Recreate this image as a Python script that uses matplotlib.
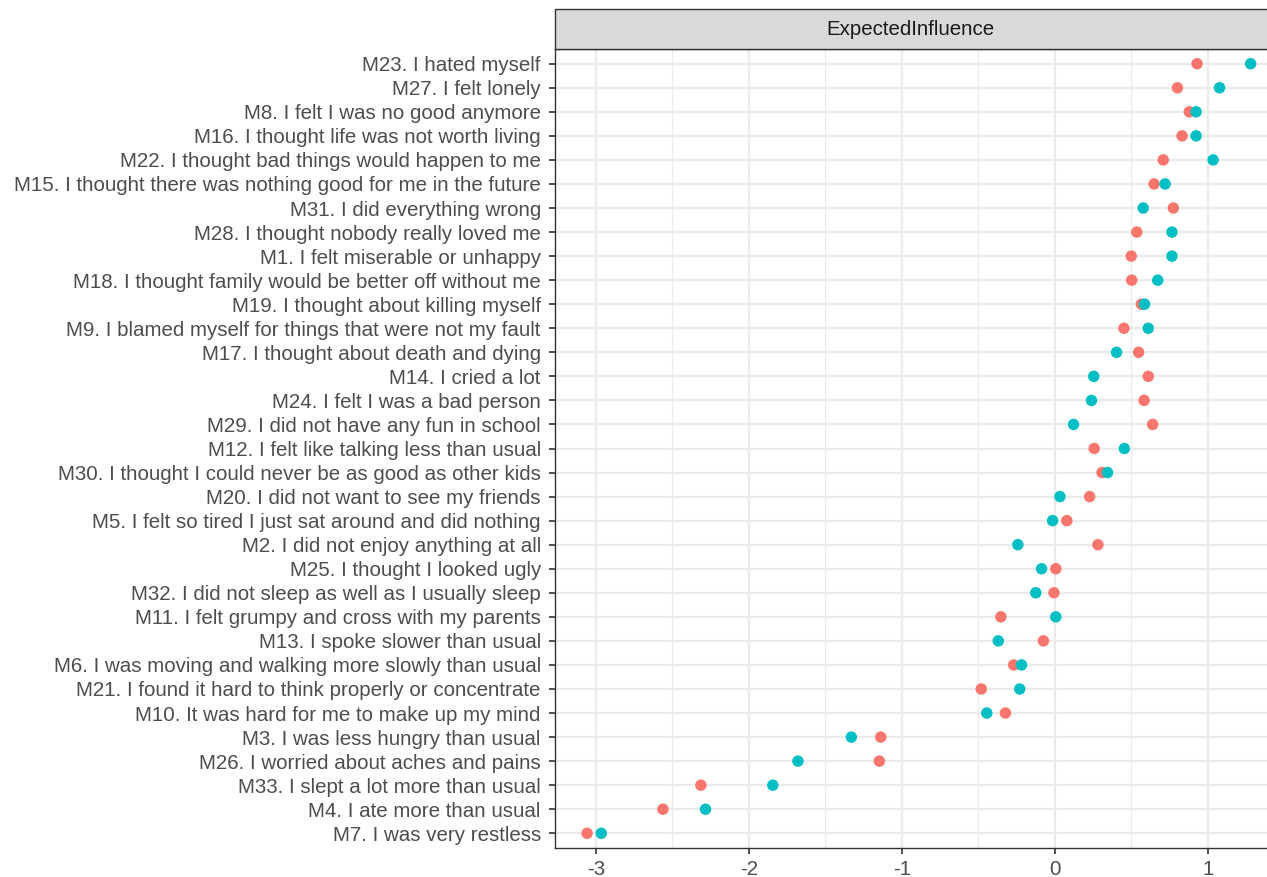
import matplotlib
matplotlib.use("Agg")
import matplotlib.pyplot as plt
from matplotlib.patches import Rectangle
from matplotlib.ticker import MultipleLocator

items = [
    "M23. I hated myself",
    "M27. I felt lonely",
    "M8. I felt I was no good anymore",
    "M16. I thought life was not worth living",
    "M22. I thought bad things would happen to me",
    "M15. I thought there was nothing good for me in the future",
    "M31. I did everything wrong",
    "M28. I thought nobody really loved me",
    "M1. I felt miserable or unhappy",
    "M18. I thought family would be better off without me",
    "M19. I thought about killing myself",
    "M9. I blamed myself for things that were not my fault",
    "M17. I thought about death and dying",
    "M14. I cried a lot",
    "M24. I felt I was a bad person",
    "M29. I did not have any fun in school",
    "M12. I felt like talking less than usual",
    "M30. I thought I could never be as good as other kids",
    "M20. I did not want to see my friends",
    "M5. I felt so tired I just sat around and did nothing",
    "M2. I did not enjoy anything at all",
    "M25. I thought I looked ugly",
    "M32. I did not sleep as well as I usually sleep",
    "M11. I felt grumpy and cross with my parents",
    "M13. I spoke slower than usual",
    "M6. I was moving and walking more slowly than usual",
    "M21. I found it hard to think properly or concentrate",
    "M10. It was hard for me to make up my mind",
    "M3. I was less hungry than usual",
    "M26. I worried about aches and pains",
    "M33. I slept a lot more than usual",
    "M4. I ate more than usual",
    "M7. I was very restless",
]

group_red = [0.929, 0.801, 0.878, 0.831, 0.708, 0.648, 0.774, 0.535, 0.499, 0.502,
             0.565, 0.451, 0.547, 0.610, 0.583, 0.639, 0.257, 0.308, 0.227, 0.078,
             0.281, 0.006, -0.006, -0.353, -0.075, -0.269, -0.481, -0.323, -1.138,
             -1.147, -2.313, -2.561, -3.057]
group_teal = [1.279, 1.076, 0.923, 0.923, 1.034, 0.720, 0.577, 0.765, 0.765, 0.672,
              0.586, 0.610, 0.403, 0.254, 0.239, 0.122, 0.454, 0.344, 0.033, -0.015,
              -0.242, -0.087, -0.125, 0.006, -0.370, -0.218, -0.230, -0.445, -1.330,
              -1.679, -1.843, -2.283, -2.964]

x_ticks = [-3, -2, -1, 0, 1]
x_tick_labels = ["-3", "-2", "-1", "0", "1"]
strip_title = "ExpectedInfluence"

W, H = 1267, 877
fig = plt.figure(figsize=(W / 100, H / 100), dpi=100)
plt.rcParams['font.family'] = ['Liberation Sans', 'DejaVu Sans']

left_px, right_px = 554.6, 1270
top_px, bottom_px = 49.3, 847.7
ax = fig.add_axes([left_px / W, 1 - bottom_px / H, (right_px - left_px) / W,
                   (bottom_px - top_px) / H])

n = len(items)
ypos = list(range(n, 0, -1))

ax.set_xlim(-3.269, 1.386 + (right_px - 1267) / 153.0)
ax.set_ylim(0.4, n + 0.6)

ax.xaxis.set_minor_locator(MultipleLocator(0.5))
ax.set_xticks(x_ticks)
ax.set_xticklabels(x_tick_labels)
ax.set_yticks(ypos)
ax.set_yticklabels(items)
ax.tick_params(axis='y', which='minor', left=False)

ax.grid(True, which='major', color='#EBEBEB', linewidth=1.6, zorder=0)
ax.grid(True, which='minor', axis='x', color='#EBEBEB', linewidth=0.9, zorder=0)
ax.set_axisbelow(True)

ax.scatter(group_red, ypos, s=68, color='#F8766D', edgecolors='none', zorder=3)
ax.scatter(group_teal, ypos, s=68, color='#00BFC4', edgecolors='none', zorder=4)

for sp in ax.spines.values():
    sp.set_color('#333333')
    sp.set_linewidth(1.0)

ax.tick_params(axis='both', which='major', length=4.4, width=1.2, color='#333333',
               labelcolor='#4D4D4D', labelsize=14.8)
ax.tick_params(axis='y', which='major', pad=5.5)
ax.tick_params(axis='x', which='major', pad=4.5)
ax.tick_params(axis='x', which='minor', bottom=False)

# facet strip
strip_top = 9
strip = Rectangle((left_px / W, 1 - top_px / H), (right_px - left_px) / W,
                  (top_px - strip_top) / H, transform=fig.transFigure,
                  facecolor='#D9D9D9', edgecolor='#333333', linewidth=1.0)
fig.patches.append(strip)
fig.text((left_px + 1267) / 2 / W, 1 - (strip_top + top_px) / 2 / H, strip_title,
         ha='center', va='center', color='#1A1A1A', fontsize=14.8)

fig.savefig("out.png", dpi=100)
